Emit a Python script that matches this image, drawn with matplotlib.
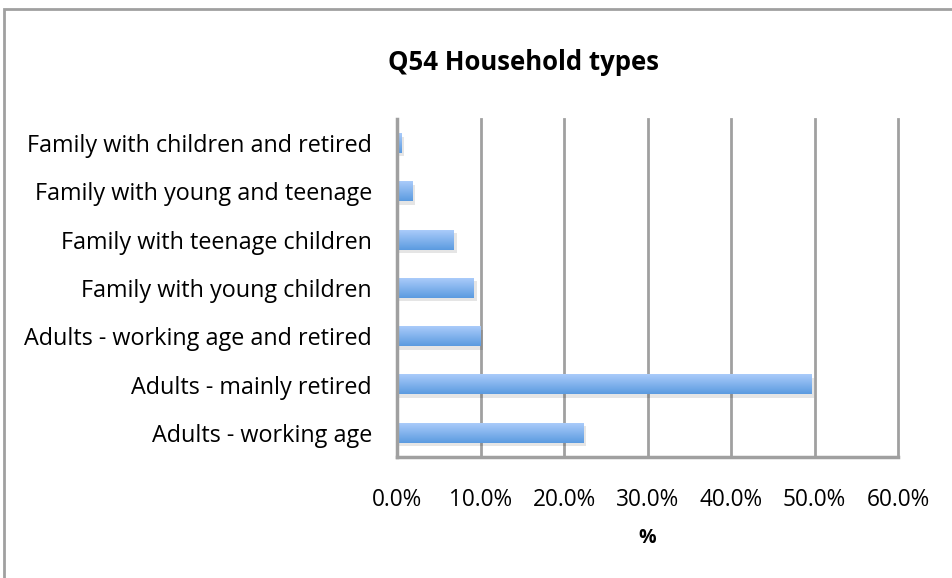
import numpy as np
import matplotlib.pyplot as plt
from matplotlib.patches import Rectangle
from matplotlib.colors import LinearSegmentedColormap

# Household types (bottom to top as drawn)
categories = ['Adults - working age', 'Adults - mainly retired',
              'Adults - working age and retired', 'Family with young children',
              'Family with teenage children', 'Family with young and teenage',
              'Family with children and retired']
values = [22.3, 49.6, 10.0, 9.2, 6.8, 1.8, 0.5]
x_ticks = [0, 10, 20, 30, 40, 50, 60]
x_tick_labels = ['0.0%', '10.0%', '20.0%', '30.0%', '40.0%', '50.0%', '60.0%']

plt.rcParams['font.family'] = ['Open Sans', 'DejaVu Sans']

fig = plt.figure(figsize=(9.52, 5.78), dpi=100)
# outer chart frame (only left and top visible in the picture)
fig.patches.append(Rectangle((4 / 952, -0.1), 1.2, (1 - 9 / 578) + 0.1,
                             transform=fig.transFigure, fill=False,
                             edgecolor='#a0a0a0', linewidth=2))

ax = fig.add_axes([397 / 952, 1 - 457 / 578, (898 - 397) / 952, (457 - 119) / 578])

bar_h = 0.41
grad = LinearSegmentedColormap.from_list('bar', ['#aacbfa', '#5b9be0'])
g = np.linspace(0, 1, 64).reshape(-1, 1)
for i, v in enumerate(values):
    # soft shadow
    ax.add_patch(Rectangle((0, i - bar_h / 2 - 0.07), v + 0.35, bar_h,
                           facecolor='#000000', alpha=0.10, edgecolor='none', zorder=2))
    ax.imshow(g, cmap=grad, aspect='auto', extent=(0, v, i - bar_h / 2, i + bar_h / 2),
              origin='upper', zorder=3)

ax.set_xlim(0, 60)
ax.set_ylim(-0.5, len(categories) - 0.5)
ax.set_yticks(range(len(categories)))
ax.set_yticklabels(categories, fontsize=16.8)
ax.set_xticks(x_ticks)
ax.set_xticklabels(x_tick_labels, fontsize=16.3)
ax.tick_params(axis='y', length=0, pad=18)
ax.tick_params(axis='x', length=0, pad=22)
ax.grid(axis='x', color='#a0a0a0', linewidth=2)
for line in ax.get_xgridlines():
    line.set_clip_on(False)
ax.set_axisbelow(True)
for s in ['top', 'right']:
    ax.spines[s].set_visible(False)
for s in ['left', 'bottom']:
    ax.spines[s].set_color('#a0a0a0')
    ax.spines[s].set_linewidth(2.5)
    ax.spines[s].set_zorder(4)

ax.set_xlabel('%', fontsize=14, fontweight='bold', labelpad=12)
fig.text(523 / 952, 1 - 62 / 578, 'Q54 Household types', ha='center', va='center',
         fontsize=18.5, fontweight='bold')

fig.savefig('out.png', dpi=100)
